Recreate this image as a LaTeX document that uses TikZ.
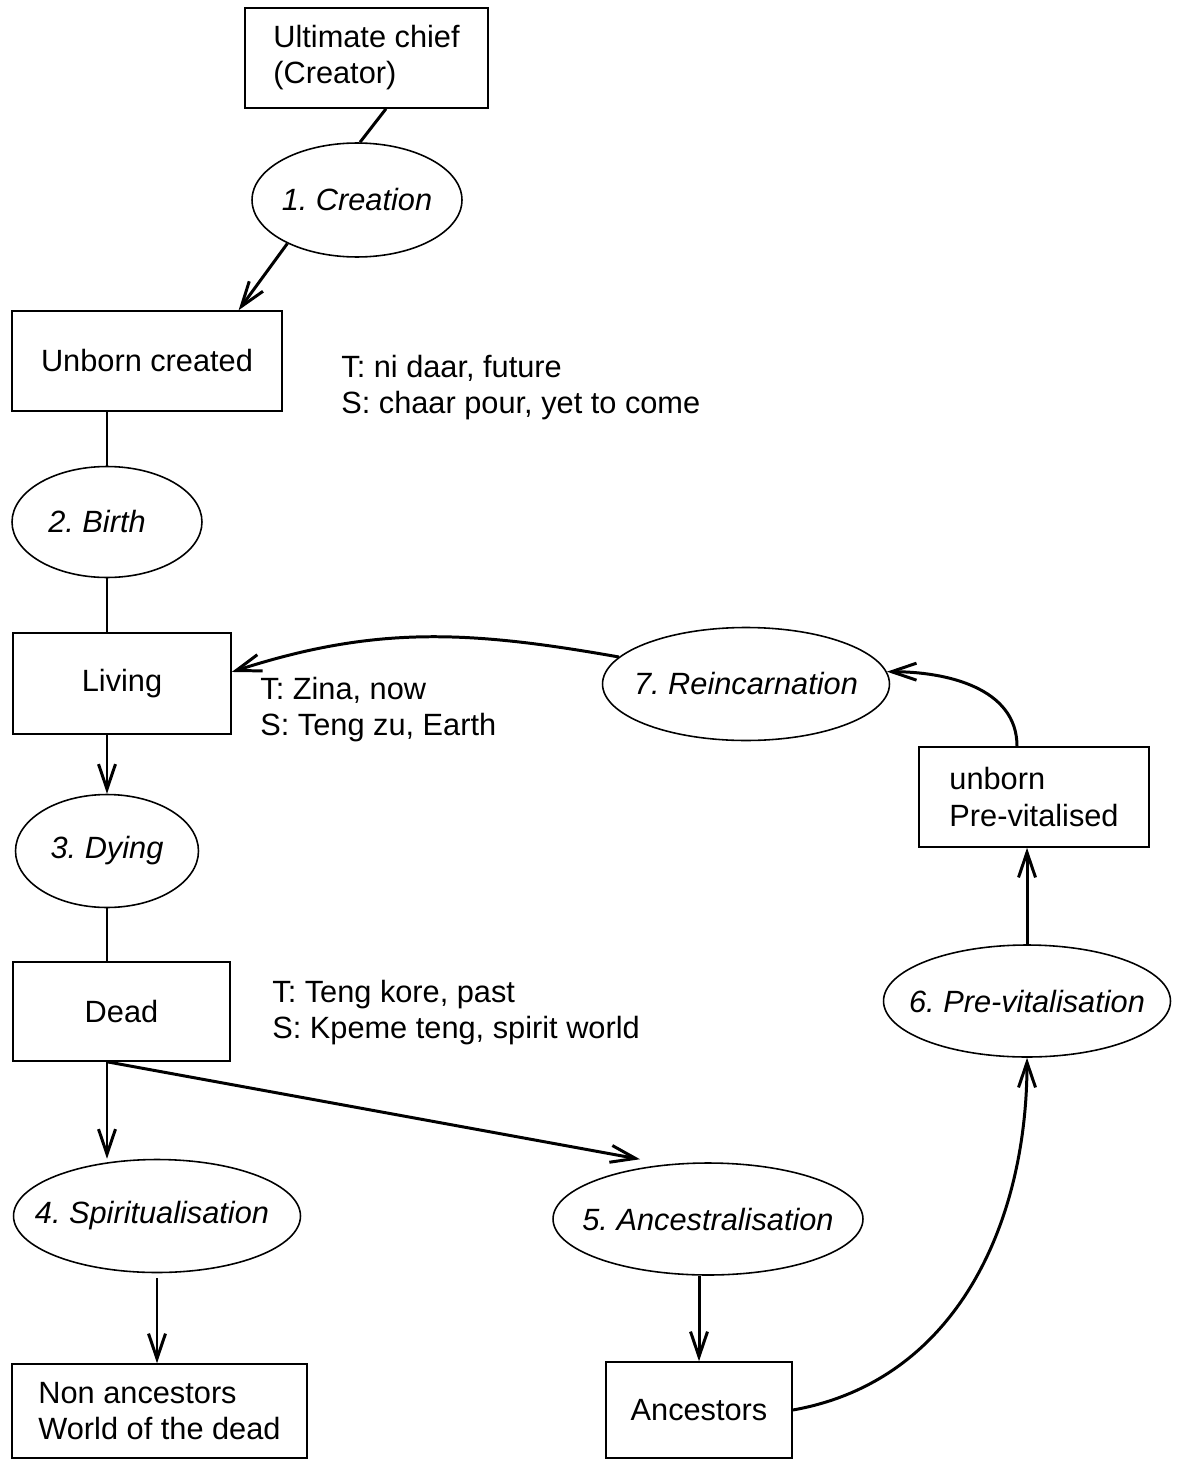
\documentclass[tikz,border=0pt]{standalone}
\usepackage{fontspec}
\setmainfont{Liberation Sans}
\usetikzlibrary{shapes.geometric,arrows.meta,calc}
\frenchspacing
% ellipse size comes from minimum width/height only
\newcommand{\phasename}[1]{\makebox[0pt]{#1}}
\tikzset{
  stagebox/.style={draw, line width=0.9pt, inner sep=0pt, align=center},
  phase/.style={draw, ellipse, line width=0.9pt, inner sep=0pt,
    font=\itshape\fontsize{17.5}{20.5}\selectfont},
  note/.style={anchor=west, inner sep=0pt, align=left},
  link/.style={line width=1.7pt},
  flow/.style={link, -{Straight Barb[length=5mm,width=3.4mm]}}
}

\begin{document}
\begin{tikzpicture}[x=0.02cm, y=-0.02cm, font=\fontsize{17.5}{20.5}\selectfont]
\useasboundingbox (0,0) rectangle (1178,1463);

% left column
\node[stagebox, align=left, minimum width=4.86cm, minimum height=2cm] (chief) at (366.5,58) {Ultimate chief\\(Creator)};
\node[phase, minimum width=4.2cm, minimum height=2.28cm] (creation) at (357,200) {\phasename{1. Creation}};
\node[stagebox, minimum width=5.4cm, minimum height=2cm] (unborn) at (147,361) {Unborn created};
\node[phase, minimum width=3.8cm, minimum height=2.22cm] (birth) at (107,522) {\phasename{\hspace{-0.4cm}2. Birth}};
\node[stagebox, minimum width=4.36cm, minimum height=2.02cm] (living) at (122,683.5) {Living};
\node[phase, minimum width=3.66cm, minimum height=2.26cm] (dying) at (107,851) {\phasename{3. Dying}};
\node[stagebox, minimum width=4.34cm, minimum height=1.98cm] (dead) at (121.5,1011.5) {Dead};
\node[phase, minimum width=5.74cm, minimum height=2.26cm] (spirit) at (157,1216) {\phasename{\hspace{-0.2cm}4. Spiritualisation}};
\node[stagebox, align=left, minimum width=5.9cm, minimum height=1.88cm] (nonanc) at (159.5,1411) {Non ancestors\\World of the dead};

% right side
\node[phase, minimum width=6.2cm, minimum height=2.24cm] (ancestral) at (708,1219) {\phasename{5. Ancestralisation}};
\node[stagebox, minimum width=3.72cm, minimum height=1.92cm] (ancestors) at (699,1410) {Ancestors};
\node[phase, minimum width=5.74cm, minimum height=2.24cm] (previt) at (1027,1001) {\phasename{6. Pre-vitalisation}};
\node[stagebox, align=left, minimum width=4.6cm, minimum height=2cm] (vitbox) at (1034,797) {unborn\\Pre-vitalised};
\node[phase, minimum width=5.74cm, minimum height=2.26cm] (reinc) at (746,684) {\phasename{7. Reincarnation}};

% notes
\node[note] (noteunborn) at (341,388) {T: ni daar, future\\S: chaar pour, yet to come};
\node[note] (noteliving) at (260,710) {T: Zina, now\\S: Teng zu, Earth};
\node[note] (notedead) at (272,1013) {T: Teng kore, past\\S: Kpeme teng, spirit world};

% connectors
\draw[link] (chief.-69) -- (creation.87);
\draw[flow] (creation.212) -- (unborn.29);
\draw[link] (unborn.south -| birth.north) -- (birth.north);
\draw[link] (birth.south) -- (birth.south |- living.north);
\draw[flow] (birth.south |- living.south) -- (dying.north);
\draw[link] (dying.south) -- (dying.south |- dead.north);
\draw[flow] (dying.south |- dead.south) -- (dying.south |- spirit.north);
\draw[flow] (dying.south |- dead.south) -- ($(ancestral.north)+(-68,-3)$);
\draw[flow, shorten <=0.1cm] (spirit.south) -- (spirit.south |- nonanc.north);
\draw[flow] (ancestors.north |- ancestral.south) -- (ancestors.north);
\draw[flow] (ancestors.east) to[out=10,in=-90] (previt.south);
\draw[flow] (previt.north) -- (previt.north |- vitbox.south);
\draw[flow] ($(vitbox.north)+(-17,0)$) to[out=90,in=0] (reinc.5);
\draw[flow] (reinc.168) to[out=170,in=18] (living.6);
\end{tikzpicture}
\end{document}
